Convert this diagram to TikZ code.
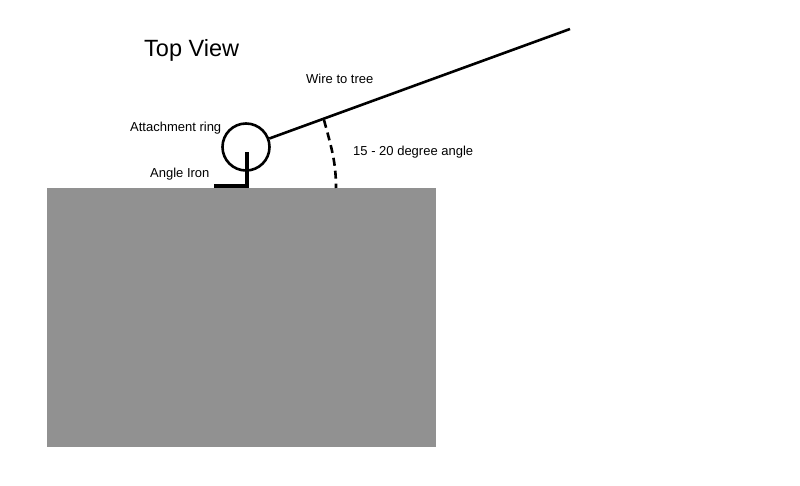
\documentclass[tikz,border=0pt]{standalone}
\usepackage{fontspec}
\setmainfont{Liberation Sans}
\begin{document}
\begin{tikzpicture}[x=1pt,y=-1pt]
\tikzset{lbl/.style={inner sep=0pt,font=\fontsize{13}{15}\selectfont,anchor=west},
  wire/.style={line width=2.6pt,black}}
\useasboundingbox (0,0) rectangle (800,486);
% Define the nodes
\node[fill=black!43,minimum width=389pt,minimum height=259pt,inner sep=0pt,anchor=north west] at (47,188) (plate) {};
\node[circle,draw,line width=2.6pt,minimum size=47pt,inner sep=0pt] at (246,147) (ring) {};
\coordinate (treeend) at (570,29);
\coordinate (ironleft) at (214,186);
\coordinate (ironcorner) at (247,186);
\coordinate (ironup) at (247,152);
\coordinate (arcend) at (336,188);
\coordinate (arcstart) at (324,120);
\node[lbl,font=\fontsize{23.5}{27}\selectfont] at (144,50) (title) {Top View};
\node[lbl] at (306,79) (wirelabel) {Wire to tree};
\node[lbl] at (130,128) (ringlabel) {Attachment ring};
\node[lbl] at (150,174) (ironlabel) {Angle Iron};
\node[lbl] at (353,152) (anglelabel) {15 - 20 degree angle};
% Draw the paths
\draw[wire] (ring) -- (treeend);
\draw[line width=4pt] (ironleft) -- (ironcorner) -- (ironup);
\draw[wire,dash pattern=on 8pt off 5pt] (arcstart) to[out=-75,in=90] (arcend);
\end{tikzpicture}
\end{document}
